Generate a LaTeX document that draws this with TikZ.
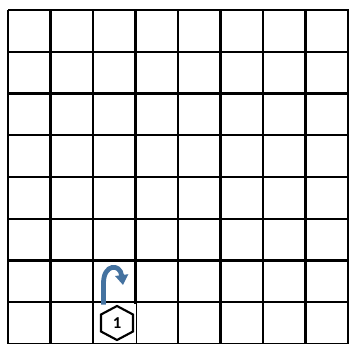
\documentclass[tikz,border=0pt]{standalone}
\usepackage{fontspec}
\newfontfamily\calib{Carlito}
\usetikzlibrary{arrows.meta}
\definecolor{arrowblue}{RGB}{68,114,160}
\tikzset{
  gridline/.style={line width=1.6pt, black},
  hexshape/.style={line width=1.6pt, black, line join=miter},
  bendarrow/.style={line width=3.6pt, arrowblue, -{Triangle[width=9.5pt,length=7.5pt]}},
  coverbox/.style={fill=white, draw=none}
}
\begin{document}
\begin{tikzpicture}[x=0.75pt,y=-0.75pt]
\useasboundingbox (0,0) rectangle (349,343);
\begin{scope}
\clip (0,0) rectangle (349,343);
\foreach \i in {0,...,8} {
  \draw[gridline] ({8+42.5*\i},10) -- ({8+42.5*\i},350);
}
\foreach \j in {0,...,8} {
  \draw[gridline] (8,{10+41.75*\j}) -- (348.5,{10+41.75*\j});
}
\fill[coverbox] (94.2,304.3) rectangle (135.6,343);
\end{scope}
\draw[hexshape] (117,306) -- (133,314.5) -- (133,331.5) -- (117,340) -- (101,331.5) -- (101,314.5) -- cycle;
\node[font=\calib\bfseries\fontsize{12.5}{14}\selectfont, inner sep=0pt] (hex) at (117,323.5) {1};
\coordinate (astart) at (103.5,304.5);
\coordinate (aend) at (123,285);
\draw[bendarrow] (astart) -- (103.5,283) .. controls (103.5,264) and (120,263) .. (aend);
\end{tikzpicture}
\end{document}
